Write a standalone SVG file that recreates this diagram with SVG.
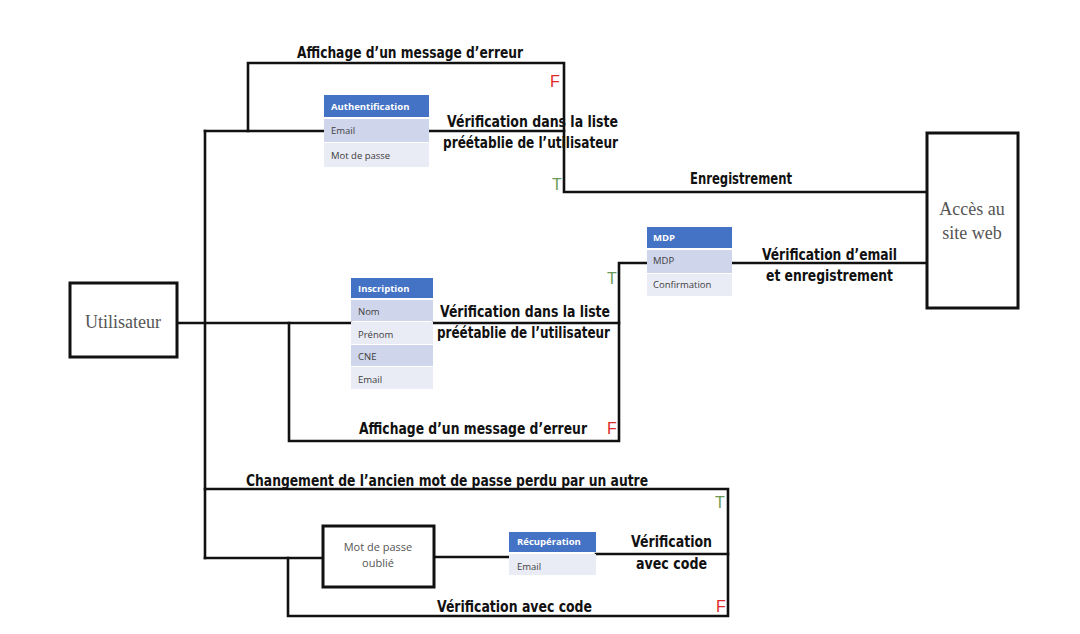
<svg xmlns="http://www.w3.org/2000/svg" width="1080" height="634" viewBox="0 0 1080 634">
<style>
.bg{fill:#fff}
.ln{fill:none;stroke:#111;stroke-width:2.6;stroke-linejoin:miter;stroke-linecap:square}
.box{fill:#fff;stroke:#111;stroke-width:3}
.lbl{font-family:"DejaVu Sans Condensed","Liberation Sans Narrow","Roboto",sans-serif;font-weight:bold;font-size:16px;fill:#111}
.serif{font-family:"Liberation Serif","DejaVu Serif",serif;font-size:18px;fill:#555}
.small{font-family:"Open Sans","Noto Sans",sans-serif;font-size:11px;fill:#555}
.hd{fill:#4472C4}
.r1{fill:#CFD5EA}
.r2{fill:#E9EBF5}
.hdt{font-family:"Open Sans","Noto Sans",sans-serif;font-size:9.5px;font-weight:bold;fill:#fff}
.rt{font-family:"Open Sans","Noto Sans",sans-serif;font-size:9.5px;fill:#404040}
.T{font-family:"Liberation Sans","DejaVu Sans",sans-serif;font-size:16px;fill:#6a9a55;text-anchor:middle}
.F{font-family:"Liberation Sans","DejaVu Sans",sans-serif;font-size:16px;fill:#e02828;text-anchor:middle}
</style>
<rect class="bg" x="0" y="0" width="1080" height="634"/>

<g id="labels">
<text class="lbl" x="297" y="58" textLength="226" lengthAdjust="spacingAndGlyphs">Affichage d’un message d’erreur</text>
<text class="lbl" x="447" y="127" textLength="171" lengthAdjust="spacingAndGlyphs">Vérification dans la liste</text>
<text class="lbl" x="443" y="148" textLength="175" lengthAdjust="spacingAndGlyphs">préétablie de l’utilisateur</text>
<text class="lbl" x="690" y="184" textLength="102" lengthAdjust="spacingAndGlyphs">Enregistrement</text>
<text class="lbl" x="762" y="260" textLength="135" lengthAdjust="spacingAndGlyphs">Vérification d’email</text>
<text class="lbl" x="766" y="281" textLength="127" lengthAdjust="spacingAndGlyphs">et enregistrement</text>
<text class="lbl" x="440" y="317" textLength="170" lengthAdjust="spacingAndGlyphs">Vérification dans la liste</text>
<text class="lbl" x="437" y="338" textLength="173" lengthAdjust="spacingAndGlyphs">préétablie de l’utilisateur</text>
<text class="lbl" x="359" y="434" textLength="228" lengthAdjust="spacingAndGlyphs">Affichage d’un message d’erreur</text>
<text class="lbl" x="246" y="486" textLength="402" lengthAdjust="spacingAndGlyphs">Changement de l’ancien mot de passe perdu par un autre</text>
<text class="lbl" x="631" y="547" textLength="81" lengthAdjust="spacingAndGlyphs">Vérification</text>
<text class="lbl" x="636" y="569" textLength="71" lengthAdjust="spacingAndGlyphs">avec code</text>
<text class="lbl" x="437" y="612" textLength="155" lengthAdjust="spacingAndGlyphs">Vérification avec code</text>
<text class="F" x="555" y="87">F</text>
<text class="T" x="557" y="190">T</text>
<text class="T" x="612" y="284">T</text>
<text class="F" x="612" y="434">F</text>
<text class="T" x="720" y="508">T</text>
<text class="F" x="721" y="612">F</text>
</g>

<g id="connectors">
<path class="ln" d="M205,131 V558"/>
<path class="ln" d="M205,131 H324"/>
<path class="ln" d="M248,131 V63 H564 V192 H927"/>
<path class="ln" d="M430,131 H564"/>
<path class="ln" d="M177,323 H351"/>
<path class="ln" d="M289,323 V441 H619 V263 H647"/>
<path class="ln" d="M433,323 H619"/>
<path class="ln" d="M732,263 H927"/>
<path class="ln" d="M205,489 H728 V616 H288 V558"/>
<path class="ln" d="M205,558 H323"/>
<path class="ln" d="M434,557 H509"/>
<path class="ln" d="M596,554 H728"/>
</g>

<g id="utilisateur">
<rect class="box" x="70" y="283" width="107" height="74"/>
<text class="serif" x="123" y="328" text-anchor="middle">Utilisateur</text>
</g>

<g id="acces">
<rect class="box" x="927" y="133" width="91" height="175"/>
<text class="serif" x="972" y="215" text-anchor="middle">Accès au</text>
<text class="serif" x="972" y="239" text-anchor="middle">site web</text>
</g>

<g id="authentification">
<rect class="hd" x="324" y="95" width="105" height="22"/>
<rect class="r1" x="324" y="119" width="105" height="23"/>
<rect class="r2" x="324" y="143" width="105" height="24"/>
<text class="hdt" x="331" y="110">Authentification</text>
<text class="rt" x="331" y="134">Email</text>
<text class="rt" x="331" y="159">Mot de passe</text>
</g>

<g id="inscription">
<rect class="hd" x="351" y="278" width="82" height="20"/>
<rect class="r1" x="351" y="300" width="82" height="21"/>
<rect class="r2" x="351" y="322" width="82" height="22"/>
<rect class="r1" x="351" y="345" width="82" height="21"/>
<rect class="r2" x="351" y="367" width="82" height="22"/>
<text class="hdt" x="358" y="292">Inscription</text>
<text class="rt" x="358" y="315">Nom</text>
<text class="rt" x="358" y="338">Prénom</text>
<text class="rt" x="358" y="360">CNE</text>
<text class="rt" x="358" y="383">Email</text>
</g>

<g id="mdp">
<rect class="hd" x="647" y="227" width="85" height="21"/>
<rect class="r1" x="647" y="250" width="85" height="23"/>
<rect class="r2" x="647" y="274" width="85" height="22"/>
<text class="hdt" x="653" y="241">MDP</text>
<text class="rt" x="653" y="264">MDP</text>
<text class="rt" x="653" y="288">Confirmation</text>
</g>

<g id="mot-de-passe-oublie">
<rect class="box" x="323" y="526" width="111" height="61"/>
<text class="small" x="378" y="551" text-anchor="middle">Mot de passe</text>
<text class="small" x="378" y="567" text-anchor="middle">oublié</text>
</g>

<g id="recuperation">
<rect class="hd" x="509" y="532" width="87" height="20"/>
<rect class="r2" x="509" y="554" width="87" height="21"/>
<text class="hdt" x="517" y="545">Récupération</text>
<text class="rt" x="517" y="570">Email</text>
</g>
</svg>
